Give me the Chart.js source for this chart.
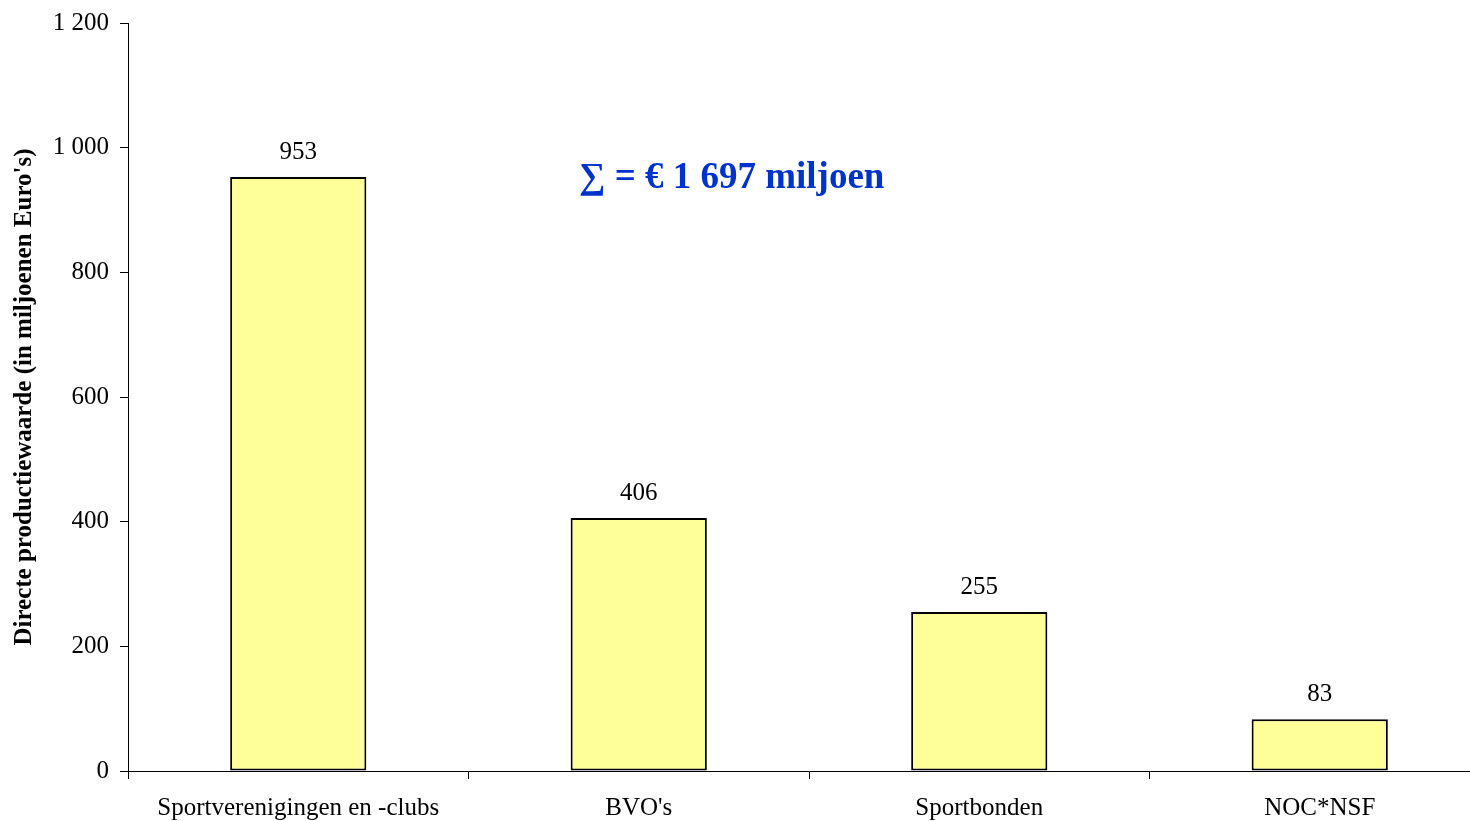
<!DOCTYPE html>
<html lang="nl">
<head>
  <meta charset="UTF-8">
  <title>Directe productiewaarde</title>
  <script src="https://cdn.jsdelivr.net/npm/chart.js@4/dist/chart.umd.min.js"></script>
  <style>
    html, body {
      margin: 0;
      padding: 0;
      background: #fff;
      overflow: hidden;
    }
    #wrap {
      position: relative;
      width: 1490px;
      height: 830px;
    }
    #sum {
      position: absolute;
      left: 579px;
      top: 154px;
      font-family: "Liberation Serif", "Times New Roman", serif;
      font-weight: bold;
      font-size: 37px;
      color: #0033cc;
      white-space: nowrap;
    }
  </style>
</head>
<body>
  <div id="wrap">
    <canvas id="chart"></canvas>
    <div id="sum">&sum; = &euro; 1 697 miljoen</div>
  </div>
  <script>
    const categories = ['Sportverenigingen en -clubs', "BVO's", 'Sportbonden', 'NOC*NSF'];
    const values = [953, 406, 255, 83];
    const yTicks = [0, 200, 400, 600, 800, 1000, 1200];

    const serif = '"Liberation Serif", "Times New Roman", serif';

    // getallen boven de staven
    const barLabels = {
      id: 'barLabels',
      afterDatasetsDraw(chart) {
        const ctx = chart.ctx;
        const meta = chart.getDatasetMeta(0);
        ctx.save();
        ctx.font = '25px ' + serif;
        ctx.fillStyle = '#000';
        ctx.textAlign = 'center';
        ctx.textBaseline = 'bottom';
        meta.data.forEach((bar, i) => {
          ctx.fillText(values[i], bar.x, bar.y - 12);
        });
        ctx.restore();
      }
    };

    new Chart(document.getElementById('chart'), {
      type: 'bar',
      data: {
        labels: categories,
        datasets: [{
          data: values,
          backgroundColor: '#ffff99',
          borderColor: '#000',
          borderWidth: 2,
          borderSkipped: false,
          barPercentage: 0.4,
          categoryPercentage: 1.0
        }]
      },
      options: {
        responsive: true,
        maintainAspectRatio: false,
        animation: false,
        layout: { padding: { top: 23, left: 0, right: 0, bottom: 0 } },
        plugins: {
          legend: { display: false },
          tooltip: { enabled: false }
        },
        scales: {
          x: {
            afterFit(scale) { scale.height = 59; },
            grid: {
              offset: true,
              drawOnChartArea: false,
              drawTicks: true,
              tickLength: 8,
              color: '#000'
            },
            border: { color: '#000', width: 1 },
            ticks: {
              font: { family: serif, size: 25 },
              color: '#000',
              padding: 14,
              maxRotation: 0,
              autoSkip: false
            }
          },
          y: {
            min: 0,
            max: 1200,
            afterFit(scale) {
              scale.width = 128;
              scale.paddingTop = 0;
              scale.paddingBottom = 0;
            },
            afterBuildTicks(scale) {
              scale.ticks = yTicks.map(v => ({ value: v }));
            },
            grid: {
              drawOnChartArea: false,
              tickLength: 8,
              color: '#000'
            },
            border: { color: '#000', width: 1 },
            ticks: {
              font: { family: serif, size: 25 },
              color: '#000',
              padding: 11,
              callback: v => v >= 1000 ? Math.floor(v / 1000) + ' ' + String(v % 1000).padStart(3, '0') : String(v)
            },
            title: {
              display: true,
              text: "Directe productiewaarde (in miljoenen Euro's)",
              font: { family: serif, size: 25, weight: 'bold' },
              color: '#000',
              padding: { top: 10, bottom: 0 }
            }
          }
        }
      },
      plugins: [barLabels]
    });
  </script>
</body>
</html>
